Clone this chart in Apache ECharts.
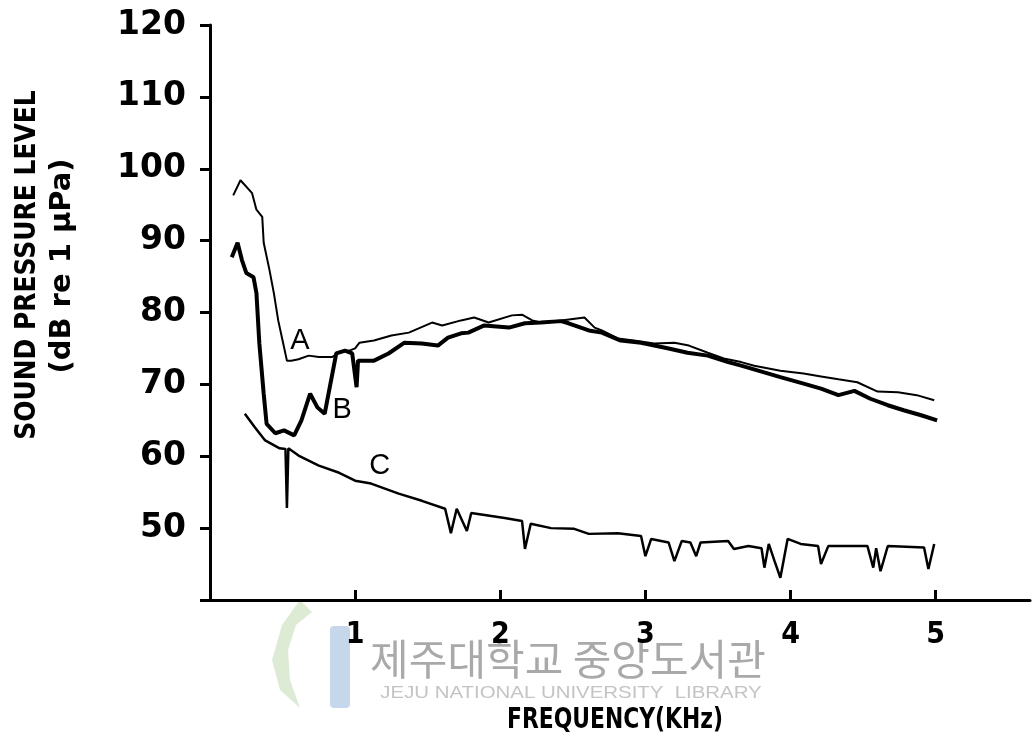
<!DOCTYPE html>
<html lang="en">

<head>
  <meta charset="UTF-8">
  <title>Sound pressure level vs frequency</title>
  <style>
    body { margin: 0; background: #fff; }
  </style>
</head>

<body>
  <div id="main" style="width: 1034px;height: 744px;"></div>
</body>
<script src="https://cdn.jsdelivr.net/npm/echarts@6/dist/echarts.min.js"></script>
<script>
  // curve A (thin)
  var freqA = [0.16, 0.21, 0.29, 0.32, 0.36, 0.37, 0.41, 0.44, 0.47, 0.50, 0.53, 0.56, 0.61, 0.68, 0.75, 0.84, 0.89, 0.96, 1.00, 1.03,
    1.13, 1.25, 1.37, 1.53, 1.60, 1.73, 1.82, 1.92, 2.08, 2.15, 2.22, 2.28, 2.42, 2.58, 2.65, 2.70, 2.81, 2.92, 3.06, 3.20,
    3.30, 3.43, 3.54, 3.66, 3.75, 3.93, 4.09, 4.21, 4.33, 4.46, 4.60, 4.74, 4.87, 4.99];
  var splA = [96.3, 98.4, 96.6, 94.3, 93.3, 89.7, 85.9, 82.7, 78.9, 76.1, 73.3, 73.3, 73.5, 74.0, 73.8, 73.8, 74.4, 74.7, 75.0, 75.8,
    76.1, 76.8, 77.2, 78.6, 78.2, 78.9, 79.3, 78.6, 79.6, 79.7, 78.9, 78.6, 78.9, 79.3, 77.9, 77.5, 76.4, 76.1, 75.7, 75.8,
    75.4, 74.4, 73.6, 73.1, 72.6, 71.9, 71.5, 71.1, 70.7, 70.3, 69.0, 68.9, 68.5, 67.8];

  // curve B (thick)
  var freqB = [0.15, 0.19, 0.22, 0.25, 0.30, 0.32, 0.34, 0.37, 0.39, 0.45, 0.51, 0.58, 0.63, 0.69, 0.74, 0.79, 0.87, 0.93, 0.98, 1.01,
    1.02, 1.13, 1.23, 1.34, 1.46, 1.57, 1.64, 1.73, 1.78, 1.89, 2.06, 2.17, 2.28, 2.42, 2.47, 2.61, 2.70, 2.83, 2.97, 3.16,
    3.29, 3.43, 3.57, 3.66, 3.93, 4.09, 4.21, 4.33, 4.44, 4.55, 4.67, 4.78, 4.90, 5.01];
  var splB = [87.7, 89.7, 87.3, 85.5, 84.9, 82.7, 75.7, 68.7, 64.5, 63.2, 63.6, 62.9, 65.0, 68.7, 66.8, 65.9, 74.3, 74.7, 74.3, 69.6,
    73.3, 73.3, 74.3, 75.8, 75.7, 75.4, 76.5, 77.1, 77.2, 78.2, 77.9, 78.5, 78.6, 78.8, 78.5, 77.5, 77.2, 76.1, 75.8, 75.0,
    74.4, 74.0, 73.1, 72.6, 71.0, 70.1, 69.4, 68.5, 69.1, 68.0, 67.1, 66.4, 65.7, 65.0];

  // curve C (background)
  var freqC = [0.24, 0.31, 0.38, 0.48, 0.52, 0.53, 0.54, 0.61, 0.75, 0.89, 1.00, 1.11, 1.30, 1.46, 1.62, 1.66, 1.70, 1.77, 1.80, 2.03,
    2.15, 2.17, 2.21, 2.35, 2.51, 2.61, 2.81, 2.97, 3.00, 3.04, 3.16, 3.20, 3.25, 3.31, 3.35, 3.38, 3.57, 3.61, 3.71, 3.80,
    3.82, 3.85, 3.89, 3.93, 3.98, 4.07, 4.19, 4.21, 4.26, 4.53, 4.57, 4.59, 4.62, 4.67, 4.92, 4.95, 4.99];
  var splC = [65.9, 64.0, 62.2, 61.1, 61.0, 52.8, 61.1, 60.1, 58.7, 57.7, 56.6, 56.2, 54.8, 53.8, 52.7, 49.3, 52.7, 49.6, 52.1, 51.4,
    51.0, 47.1, 50.6, 50.0, 49.9, 49.2, 49.3, 48.9, 46.1, 48.5, 48.0, 45.4, 48.2, 48.0, 46.1, 48.0, 48.2, 47.1, 47.5, 47.2,
    44.5, 47.8, 45.4, 43.1, 48.5, 47.8, 47.5, 45.0, 47.5, 47.5, 44.5, 47.2, 44.0, 47.5, 47.3, 44.3, 47.8];

  var curveNames = ['A', 'B', 'C'];
  // where the curve letters sit, in data coords
  var labelPos = [[0.62, 76.1], [0.91, 66.4], [1.17, 58.7]];

  function pairs(xs, ys) {
    var out = [];
    for (var i = 0; i < xs.length; i++) out.push([xs[i], ys[i]]);
    return out;
  }

  var chartDom = document.getElementById('main');
  var myChart = echarts.init(chartDom);
  var option;

  option = {
    animation: false,
    backgroundColor: '#fff',
    grid: { left: 210, right: 4, top: 25, bottom: 144 },
    xAxis: {
      type: 'value',
      min: 0,
      max: 5.65,
      interval: 1,
      splitLine: { show: false },
      axisLine: { lineStyle: { color: '#000', width: 3 } },
      axisTick: { inside: true, length: 10, lineStyle: { color: '#000', width: 3 } },
      axisLabel: {
        margin: 20, fontSize: 30, fontFamily: 'DejaVu Sans Condensed', fontWeight: 'bold', color: '#000',
        showMaxLabel: false,
        formatter: function (v) { return v === 0 ? '' : v; }
      }
    },
    yAxis: {
      type: 'value',
      min: 40,
      max: 120,
      interval: 10,
      splitLine: { show: false },
      axisLine: { lineStyle: { color: '#000', width: 3 } },
      axisTick: { length: 10, lineStyle: { color: '#000', width: 3 } },
      axisLabel: {
        margin: 24, fontSize: 33, fontFamily: 'DejaVu Sans', fontWeight: 'bold', color: '#000',
        formatter: function (v) { return v === 40 ? '' : v; }
      }
    },
    series: [
      {
        name: 'A', type: 'line', symbol: 'none', data: pairs(freqA, splA),
        lineStyle: { color: '#000', width: 2 }
      },
      {
        name: 'B', type: 'line', symbol: 'none', data: pairs(freqB, splB),
        lineStyle: { color: '#000', width: 4 }
      },
      {
        name: 'C', type: 'line', symbol: 'none', data: pairs(freqC, splC),
        lineStyle: { color: '#000', width: 2.5 }
      }
    ]
  };
  option && myChart.setOption(option);

  var g = [];
  // curve letters
  for (var i = 0; i < curveNames.length; i++) {
    var p = myChart.convertToPixel({ gridIndex: 0 }, labelPos[i]);
    g.push({
      type: 'text', x: p[0], y: p[1],
      style: { text: curveNames[i], fontSize: 29, fontFamily: 'Liberation Sans', fill: '#000', align: 'center', verticalAlign: 'middle' }
    });
  }
  // library watermark (drawn under the axis names)
  g.push({
    type: 'rect', shape: { x: 330, y: 626, width: 20, height: 82, r: 4 },
    style: { fill: '#b9cde6', opacity: 0.8 }
  });
  g.push({
    type: 'polygon',
    shape: { points: [[300, 600], [282, 625], [272, 660], [280, 690], [300, 708], [290, 680], [288, 650], [296, 625], [312, 612]] },
    style: { fill: '#d6e6c9', opacity: 0.8 }
  });
  g.push({
    type: 'text', x: 568, y: 659,
    style: { text: '제주대학교 중앙도서관', fontSize: 42, fontFamily: 'Noto Sans CJK KR', fill: '#9a9a9a', align: 'center', verticalAlign: 'middle', opacity: 0.85 }
  });
  g.push({
    type: 'text', x: 571, y: 693, scaleX: 1.2,
    style: { text: 'JEJU NATIONAL UNIVERSITY  LIBRARY', fontSize: 17, fontFamily: 'Liberation Sans', fill: '#c4c4c4', align: 'center', verticalAlign: 'middle' }
  });
  // axis names
  g.push({
    type: 'text', x: 615, y: 721, scaleX: 0.78,
    style: { text: 'FREQUENCY(KHz)', fontSize: 28, fontFamily: 'DejaVu Sans', fontWeight: 'bold', fill: '#000', align: 'center', verticalAlign: 'middle' }
  });
  g.push({
    type: 'text', x: 27, y: 265, rotation: Math.PI / 2, scaleX: 0.86,
    style: { text: 'SOUND PRESSURE LEVEL', fontSize: 29, fontFamily: 'DejaVu Sans', fontWeight: 'bold', fill: '#000', align: 'center', verticalAlign: 'middle' }
  });
  g.push({
    type: 'text', x: 62, y: 266, rotation: Math.PI / 2, scaleX: 1.0,
    style: { text: '(dB re 1 μPa)', fontSize: 29, fontFamily: 'DejaVu Sans', fontWeight: 'bold', fill: '#000', align: 'center', verticalAlign: 'middle' }
  });
  myChart.setOption({ graphic: g });
</script>

</html>
